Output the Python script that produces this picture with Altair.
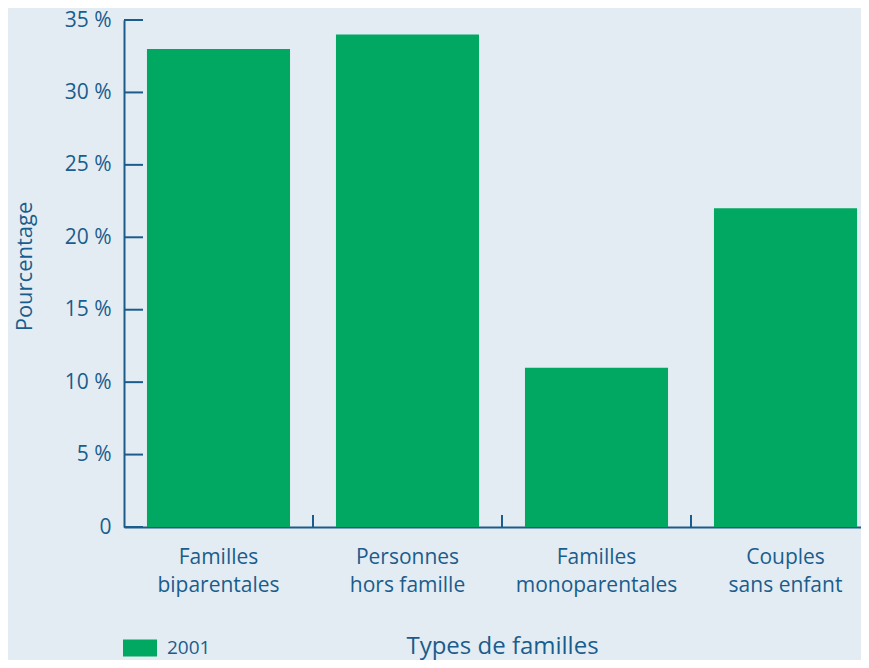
import altair as alt
import pandas as pd

categories = ["Familles|biparentales", "Personnes|hors famille", "Familles|monoparentales", "Couples|sans enfant"]
values = [33, 34, 11, 22]
series = ["2001", "2001", "2001", "2001"]
y_ticks = [0, 5, 10, 15, 20, 25, 30, 35]

BLUE = "#1a5d8c"
GREEN = "#00a862"
FONT = "Open Sans"

df = pd.DataFrame({"cat": categories, "val": values, "annee": series})
ticks_df = pd.DataFrame({"v": y_ticks})
xticks_df = pd.DataFrame({"cat": categories[1:]})

H = 507
xscale = alt.Scale(domain=categories, range=[0, 756], paddingInner=0, paddingOuter=0)
yscale = alt.Scale(domain=[0, 35], nice=False)

bars = alt.Chart(df).mark_bar(width={"band": 0.757}).encode(
    x=alt.X("cat:N", scale=xscale, sort=None,
            axis=alt.Axis(title="Types de familles", labelExpr="split(datum.label, '|')",
                          labelAngle=0, ticks=False, domainColor=BLUE, domainWidth=2,
                          labelColor=BLUE, labelFont=FONT, labelFontSize=21, labelLineHeight=28,
                          labelPadding=19, labelBaseline="top",
                          titleColor=BLUE, titleFont=FONT, titleFontSize=24, titleFontWeight="normal",
                          titleY=126, titleBaseline="alphabetic")),
    y=alt.Y("val:Q", scale=yscale,
            axis=alt.Axis(title="Pourcentage", values=y_ticks, ticks=False, grid=False,
                          labelExpr="datum.value == 0 ? '0' : datum.value + ' %'",
                          domainColor=BLUE, domainWidth=2, labelColor=BLUE, labelFont=FONT,
                          labelFontSize=21, labelPadding=13,
                          titleColor=BLUE, titleFont=FONT, titleFontSize=22, titleFontWeight="normal",
                          titleX=-93, titleY=246, titleBaseline="alphabetic", titleAngle=-90)),
    color=alt.Color("annee:N", scale=alt.Scale(range=[GREEN]),
                    legend=alt.Legend(title=None, orient="none", legendX=-1, legendY=611,
                                      padding=0,
                                      symbolType="M-1,-0.5H1V0.5H-1Z", symbolSize=1156,
                                      symbolStrokeWidth=0, symbolOpacity=1, labelFont=FONT,
                                      labelFontSize=19, labelColor=BLUE, labelOffset=10)),
)

yt = alt.Chart(ticks_df).mark_rule(color=BLUE, strokeWidth=2).encode(
    y=alt.Y("v:Q", scale=yscale),
    x=alt.value(0),
    x2=alt.value(19),
)

xt = alt.Chart(xticks_df).mark_rule(color=BLUE, strokeWidth=2).encode(
    x=alt.X("cat:N", scale=xscale, sort=None, bandPosition=0),
    y=alt.value(H - 12),
    y2=alt.value(H),
)

chart = alt.layer(bars, yt, xt).properties(
    width=737, height=H,
    autosize=alt.AutoSizeParams(type="none"),
    padding={"left": 116, "top": 12, "right": 0, "bottom": 133},
    background="#e4ecf3",
).configure_view(stroke=None)

chart.save("out.html", embed_options={"renderer": "svg", "actions": False})
